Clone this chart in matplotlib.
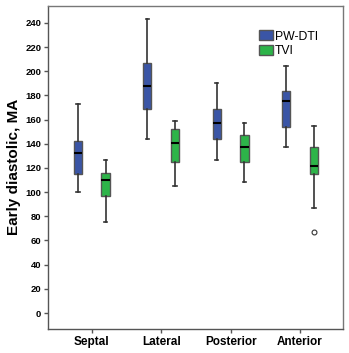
import matplotlib
matplotlib.use("Agg")
import matplotlib.pyplot as plt
from matplotlib.patches import Patch

plt.rcParams['font.family'] = ['Liberation Sans', 'DejaVu Sans']

categories = ["Septal", "Lateral", "Posterior", "Anterior"]
series = ["PW-DTI", "TVI"]
# stats: [whislo, q1, median, q3, whishi]
pwdti = [
    [100, 115, 132, 142, 173],
    [144, 169, 188, 207, 243],
    [127, 144, 157, 169, 190],
    [137, 154, 175, 184, 204],
]
tvi = [
    [75, 97, 110, 116, 127],
    [105, 125, 141, 152, 159],
    [108, 125, 137, 147, 157],
    [87, 115, 122, 137, 155],
]
tvi_outliers = [[], [], [], [67]]
pwdti_outliers = [[], [], [], []]
yticks = list(range(0, 241, 20))

colors = ["#3A55A6", "#2DB449"]

fig = plt.figure(figsize=(3.49, 3.53), dpi=100)
ax = fig.add_axes([0.1384, 0.0688, 0.8436, 0.9142])

def make_stats(data, outl):
    out = []
    for d, o in zip(data, outl):
        out.append(dict(whislo=d[0], q1=d[1], med=d[2], q3=d[3], whishi=d[4], fliers=o))
    return out

offset = 0.2
width = 0.12
for k, (data, outl, col) in enumerate([(pwdti, pwdti_outliers, colors[0]), (tvi, tvi_outliers, colors[1])]):
    pos = [i + 1 + (offset if k else -offset) for i in range(len(categories))]
    ax.bxp(make_stats(data, outl), positions=pos, widths=width, patch_artist=True,
           showfliers=True, manage_ticks=False,
           boxprops=dict(facecolor=col, edgecolor="#555555", linewidth=1.0),
           medianprops=dict(color="black", linewidth=1.5),
           whiskerprops=dict(color="#333333", linewidth=1.2),
           capprops=dict(color="#333333", linewidth=1.2),
           capwidths=0.05,
           flierprops=dict(marker="o", markersize=3.5, markerfacecolor="white",
                           markeredgecolor="#333333", markeredgewidth=0.8))

ax.set_xlim(0.375, 4.615)
ax.set_ylim(-13, 254)
ax.set_yticks(yticks)
ax.set_yticklabels([str(t) for t in yticks], fontsize=6.8, fontweight="bold")
ax.set_xticks(range(1, len(categories) + 1))
ax.set_xticklabels(categories, fontsize=8.5, fontweight="bold")
ax.set_ylabel("Early diastolic, MA", fontsize=11, fontweight="bold", labelpad=3)
ax.tick_params(axis="both", length=3, width=1, color="#555555", pad=2)
for s in ax.spines.values():
    s.set_color("#777777")
    s.set_linewidth(1.0)
ax.spines["left"].set_color("#555555")
ax.spines["bottom"].set_color("#555555")

handles = [Patch(facecolor=colors[0], edgecolor="#555555", label=series[0]),
           Patch(facecolor=colors[1], edgecolor="#555555", label=series[1])]
ax.legend(handles=handles, loc="upper left", bbox_to_anchor=(0.7, 0.94), frameon=False,
          fontsize=8.8, handlelength=1.1, handleheight=0.9, handletextpad=0.2,
          labelspacing=0.2, borderaxespad=0)

fig.savefig("out.png", dpi=100)
